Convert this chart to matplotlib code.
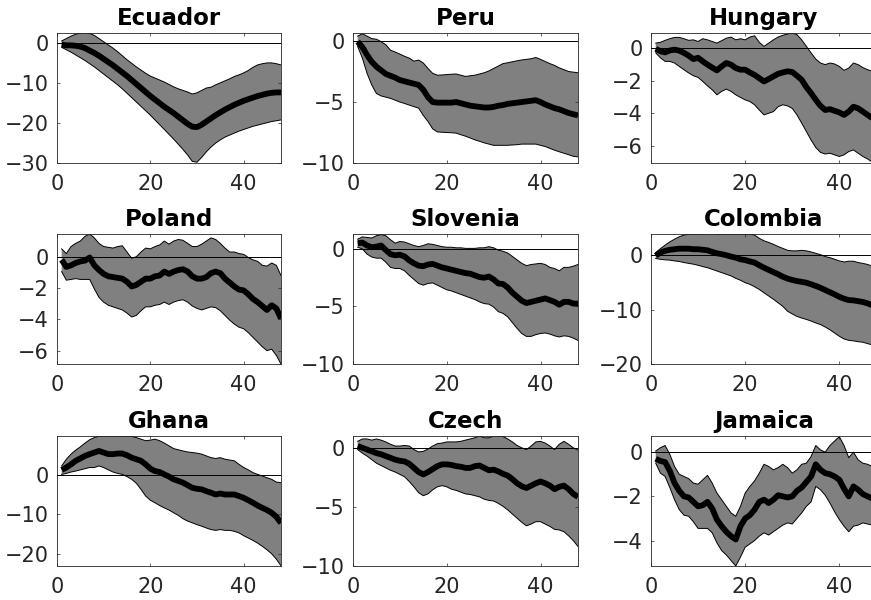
import numpy as np
import matplotlib.pyplot as plt

horizon = np.arange(1, 49)

countries = ['Ecuador', 'Peru', 'Hungary',
             'Poland', 'Slovenia', 'Colombia',
             'Ghana', 'Czech', 'Jamaica']

ecuador_med = [-0.3, -0.5, -0.5, -0.6, -0.8, -1.2, -1.8, -2.4, -3.1, -3.9, -4.7, -5.5, -6.4, -7.3, -8.2, -9.2,
               -10.2, -11.2, -12.2, -13.2, -14.1, -15.0, -15.9, -16.7, -17.5, -18.4, -19.3, -20.2, -20.9, -21.0, -20.4, -19.6,
               -18.8, -18.0, -17.3, -16.6, -16.0, -15.4, -14.9, -14.4, -14.0, -13.6, -13.2, -12.9, -12.6, -12.4, -12.3, -12.3]
ecuador_hi = [0.6, 1.2, 1.8, 2.3, 2.6, 2.7, 2.5, 2.0, 1.2, 0.4, -0.4, -1.2, -2.1, -3.1, -4.1, -5.0,
              -5.9, -6.7, -7.5, -8.2, -8.7, -9.2, -9.7, -10.3, -10.9, -11.4, -11.8, -12.2, -12.7, -12.4, -11.8, -11.2,
              -11.0, -10.4, -9.9, -9.4, -8.9, -8.3, -7.9, -7.4, -6.8, -6.0, -5.4, -5.1, -4.9, -4.9, -5.1, -5.4]
ecuador_lo = [-1.0, -1.6, -2.2, -2.9, -3.6, -4.3, -5.1, -5.9, -6.8, -7.7, -8.6, -9.5, -10.4, -11.4, -12.5, -13.6,
              -14.7, -15.8, -16.9, -18.0, -19.2, -20.4, -21.6, -22.8, -24.0, -25.3, -26.6, -28.0, -29.6, -29.8, -28.6, -27.2,
              -26.0, -25.0, -24.2, -23.5, -23.0, -22.5, -22.0, -21.6, -21.2, -20.8, -20.5, -20.2, -19.9, -19.6, -19.4, -19.2]

peru_med = [-0.05, -0.5, -1.15, -1.7, -2.1, -2.4, -2.7, -2.85, -3.0, -3.2, -3.3, -3.4, -3.5, -3.6, -4.0, -4.6,
            -5.0, -5.05, -5.05, -5.05, -5.05, -5.0, -5.1, -5.2, -5.3, -5.35, -5.4, -5.45, -5.45, -5.4, -5.3, -5.25,
            -5.15, -5.1, -5.05, -5.0, -4.95, -4.9, -4.85, -5.0, -5.2, -5.35, -5.5, -5.6, -5.75, -5.9, -6.0, -6.1]
peru_hi = [0.4, 0.6, 0.4, 0.2, 0.15, -0.05, -0.3, -0.75, -0.9, -1.07, -1.25, -1.4, -1.65, -1.56, -1.8, -2.25,
           -2.65, -2.8, -2.78, -2.75, -2.72, -2.7, -2.8, -2.9, -2.85, -2.8, -2.7, -2.6, -2.45, -2.25, -2.05, -1.85,
           -1.78, -1.7, -1.62, -1.55, -1.5, -1.45, -1.35, -1.5, -1.68, -1.85, -2.0, -2.2, -2.35, -2.5, -2.55, -2.6]
peru_lo = [-0.45, -1.4, -2.65, -3.6, -4.3, -4.5, -4.6, -4.7, -4.85, -5.0, -5.12, -5.25, -5.38, -5.5, -6.1, -6.6,
           -7.2, -7.45, -7.48, -7.5, -7.52, -7.55, -7.68, -7.8, -7.95, -8.1, -8.22, -8.35, -8.45, -8.55, -8.55, -8.55,
           -8.55, -8.52, -8.5, -8.45, -8.45, -8.45, -8.45, -8.55, -8.65, -8.8, -8.95, -9.08, -9.2, -9.32, -9.45, -9.5]

hungary_med = [-0.05, -0.2, -0.27, -0.15, -0.1, -0.16, -0.3, -0.47, -0.68, -0.6, -0.82, -1.02, -1.2, -1.37, -1.13, -0.92,
               -1.02, -1.23, -1.33, -1.33, -1.5, -1.65, -1.85, -2.05, -1.9, -1.74, -1.58, -1.5, -1.43, -1.47, -1.7, -1.95,
               -2.4, -2.77, -3.18, -3.55, -3.8, -3.75, -3.85, -3.95, -4.1, -3.9, -3.6, -3.7, -3.9, -4.1, -4.3, -4.4]
hungary_hi = [0.3, 0.35, 0.47, 0.57, 0.65, 0.65, 0.57, 0.47, 0.5, 0.4, 0.57, 0.5, 0.4, 0.3, 0.45, 0.6,
              0.67, 0.5, 0.57, 0.5, 0.67, 0.75, 0.35, 0.1, 0.3, 0.5, 0.67, 0.78, 0.86, 0.92, 0.82, 0.5,
              0.1, -0.3, -0.68, -0.92, -1.02, -0.92, -0.98, -1.13, -1.37, -1.23, -0.92, -1.02, -1.2, -1.33, -1.43, -1.55]
hungary_lo = [-0.3, -0.6, -0.82, -0.82, -0.92, -1.13, -1.33, -1.53, -1.7, -1.8, -2.05, -2.32, -2.56, -2.87, -2.66, -2.52,
              -2.66, -2.87, -3.03, -3.18, -3.28, -3.48, -3.8, -4.1, -4.0, -3.9, -3.6, -3.48, -3.55, -3.7, -4.1, -4.6,
              -5.12, -5.64, -6.1, -6.4, -6.5, -6.45, -6.55, -6.65, -6.55, -6.35, -6.25, -6.45, -6.65, -6.8, -7.0, -7.05]

poland_med = [-0.2, -0.65, -0.55, -0.4, -0.3, -0.25, -0.05, -0.55, -0.85, -1.1, -1.25, -1.3, -1.35, -1.4, -1.6, -1.9,
              -1.8, -1.6, -1.4, -1.4, -1.25, -1.2, -0.95, -1.1, -0.95, -0.85, -0.8, -0.95, -1.25, -1.4, -1.4, -1.3,
              -1.05, -0.95, -1.05, -1.4, -1.65, -1.9, -2.1, -2.15, -2.4, -2.7, -2.9, -3.15, -3.4, -3.1, -3.3, -3.95]
poland_hi = [0.5, 0.2, 0.65, 0.85, 1.0, 1.3, 1.45, 1.2, 0.85, 0.65, 0.6, 0.55, 0.65, 0.7, 0.3, -0.1,
             0.0, 0.3, 0.55, 0.5, 0.65, 0.75, 1.0, 0.8, 1.0, 1.1, 1.05, 0.85, 0.65, 0.65, 0.8, 1.0,
             1.2, 1.1, 0.85, 0.55, 0.3, 0.3, 0.2, 0.15, -0.05, -0.2, -0.3, -0.55, -0.6, -0.4, -0.55, -1.2]
poland_lo = [-0.95, -1.5, -1.45, -1.4, -1.45, -1.45, -1.45, -2.05, -2.6, -2.9, -3.1, -3.2, -3.3, -3.4, -3.6, -3.85,
             -3.75, -3.45, -3.2, -3.2, -3.1, -3.05, -2.9, -3.05, -2.9, -2.8, -2.75, -2.9, -3.15, -3.3, -3.4, -3.3,
             -3.2, -3.25, -3.45, -3.75, -4.05, -4.3, -4.5, -4.6, -4.85, -5.15, -5.45, -5.75, -6.0, -5.9, -6.3, -6.85]

slovenia_med = [0.5, 0.55, 0.3, 0.15, 0.2, 0.3, -0.1, -0.45, -0.55, -0.5, -0.65, -1.0, -1.25, -1.45, -1.5, -1.35,
                -1.3, -1.45, -1.6, -1.7, -1.8, -1.9, -2.0, -2.1, -2.15, -2.3, -2.45, -2.5, -2.4, -2.65, -3.0, -3.05,
                -3.35, -3.8, -4.15, -4.5, -4.7, -4.6, -4.5, -4.4, -4.3, -4.45, -4.6, -4.85, -4.6, -4.6, -4.75, -4.75]
slovenia_hi = [0.85, 1.05, 1.0, 0.95, 1.15, 1.25, 1.15, 0.8, 0.5, 0.65, 0.6, 0.45, 0.3, 0.2, 0.3, 0.45,
               0.4, 0.3, 0.2, 0.15, 0.15, 0.1, 0.1, 0.05, 0.05, 0.05, 0.1, 0.1, 0.2, 0.1, -0.1, -0.2,
               -0.35, -0.65, -0.95, -1.25, -1.45, -1.35, -1.3, -1.25, -1.35, -1.6, -1.7, -1.9, -1.6, -1.6, -1.5, -1.35]
slovenia_lo = [0.15, 0.0, -0.45, -0.7, -0.8, -0.8, -1.15, -1.6, -1.7, -1.7, -1.9, -2.3, -2.65, -3.0, -3.15, -3.0,
               -2.95, -3.15, -3.35, -3.55, -3.65, -3.8, -3.95, -4.1, -4.25, -4.4, -4.6, -4.75, -4.8, -5.05, -5.45, -5.6,
               -5.9, -6.4, -6.9, -7.35, -7.6, -7.6, -7.45, -7.35, -7.3, -7.4, -7.55, -7.65, -7.55, -7.6, -7.75, -7.95]

colombia_med = [-0.1, 0.5, 0.8, 1.0, 1.1, 1.2, 1.2, 1.2, 1.1, 1.1, 1.0, 0.9, 0.6, 0.35, 0.2, 0.0,
                -0.25, -0.45, -0.75, -0.9, -1.15, -1.35, -1.85, -2.3, -2.7, -3.1, -3.5, -3.95, -4.3, -4.55, -4.75, -4.9,
                -5.05, -5.35, -5.65, -6.0, -6.4, -6.8, -7.2, -7.65, -8.0, -8.25, -8.3, -8.45, -8.6, -8.85, -9.2, -9.5]
colombia_hi = [0.5, 1.2, 1.85, 2.45, 2.95, 3.4, 3.7, 3.85, 3.9, 3.9, 3.9, 4.0, 4.0, 3.9, 3.9, 3.9,
               3.9, 3.9, 3.9, 3.9, 3.9, 3.7, 3.1, 2.65, 2.35, 2.0, 1.6, 1.25, 0.9, 0.8, 0.8, 0.9,
               0.8, 0.6, 0.35, 0.1, -0.25, -0.45, -0.75, -1.05, -1.25, -1.1, -1.1, -1.35, -1.5, -1.7, -2.0, -2.3]
colombia_lo = [-0.6, -0.75, -0.85, -0.9, -1.05, -1.15, -1.35, -1.5, -1.65, -1.85, -2.1, -2.3, -2.6, -2.9, -3.2, -3.5,
               -3.8, -4.25, -4.6, -5.05, -5.35, -5.8, -6.3, -6.9, -7.5, -8.1, -8.75, -9.4, -10.3, -10.8, -11.25, -11.55,
               -11.8, -12.1, -12.45, -12.75, -13.2, -13.7, -14.3, -14.9, -15.4, -15.65, -15.75, -15.9, -16.0, -16.25, -16.5, -16.75]

ghana_med = [1.3, 1.9, 2.7, 3.6, 4.2, 4.85, 5.3, 5.7, 6.1, 5.7, 5.3, 5.3, 5.45, 5.45, 5.0, 4.4,
             4.0, 3.6, 2.7, 1.6, 1.0, 0.75, 0.15, -0.4, -1.1, -1.5, -1.95, -2.6, -3.25, -3.5, -3.65, -4.1,
             -4.5, -4.95, -4.7, -4.95, -4.95, -4.95, -5.35, -5.8, -6.4, -7.05, -7.75, -8.35, -8.9, -9.6, -10.6, -12.2]
ghana_hi = [2.3, 4.0, 5.3, 6.3, 7.15, 8.1, 8.95, 9.5, 9.85, 9.9, 9.9, 9.9, 9.9, 9.85, 9.85, 9.8,
            9.5, 9.1, 8.7, 8.85, 9.1, 8.7, 8.1, 7.4, 6.7, 6.4, 6.1, 5.85, 5.7, 5.55, 5.3, 4.85,
            4.4, 4.2, 4.4, 4.0, 3.8, 3.6, 2.7, 1.9, 1.3, 0.6, 0.15, -0.25, -0.7, -1.1, -1.8, -1.95]
ghana_lo = [0.15, 0.4, 0.75, 1.0, 1.3, 1.6, 1.9, 1.9, 2.3, 1.9, 1.3, 0.75, 0.4, 0.15, -0.4, -1.1,
            -2.1, -3.65, -5.35, -6.4, -7.05, -7.75, -8.35, -8.9, -9.6, -10.25, -11.1, -11.7, -12.15, -12.6, -13.0, -13.45,
            -13.85, -14.05, -13.85, -14.05, -14.05, -14.3, -14.7, -15.4, -16.0, -16.6, -17.3, -18.1, -19.0, -20.0, -21.35, -23.05]

czech_med = [0.15, 0.0, -0.15, -0.3, -0.45, -0.55, -0.7, -0.85, -1.0, -1.1, -1.15, -1.35, -1.7, -2.05, -2.25, -2.05,
             -1.8, -1.55, -1.4, -1.4, -1.45, -1.55, -1.6, -1.7, -1.7, -1.55, -1.5, -1.7, -1.9, -1.85, -2.0, -2.2,
             -2.35, -2.65, -3.0, -3.25, -3.4, -3.2, -3.0, -2.85, -3.0, -3.2, -3.5, -3.3, -3.2, -3.5, -3.9, -4.15]
czech_hi = [0.55, 0.75, 0.75, 0.65, 0.75, 0.65, 0.5, 0.3, 0.15, 0.15, 0.2, 0.15, -0.15, -0.35, -0.3, -0.1,
            0.15, 0.35, 0.4, 0.5, 0.5, 0.5, 0.55, 0.65, 0.75, 0.85, 1.0, 0.85, 0.85, 1.0, 1.0, 0.95,
            0.75, 0.5, 0.2, 0.0, -0.15, 0.15, 0.5, 0.55, 0.4, 0.15, -0.15, 0.3, 0.55, 0.3, 0.0, -0.2]
czech_lo = [-0.15, -0.45, -0.7, -1.0, -1.3, -1.5, -1.7, -1.9, -2.05, -2.25, -2.45, -2.85, -3.3, -3.8, -4.05, -3.9,
            -3.55, -3.3, -3.2, -3.3, -3.5, -3.6, -3.75, -3.9, -3.95, -4.05, -4.15, -4.35, -4.45, -4.5, -4.7, -4.95,
            -5.25, -5.6, -5.95, -6.3, -6.6, -6.45, -6.25, -6.25, -6.45, -6.65, -6.9, -6.95, -7.1, -7.45, -7.85, -8.35]

jamaica_med = [-0.3, -0.4, -0.45, -0.85, -1.4, -1.75, -2.0, -2.05, -2.25, -2.45, -2.4, -2.25, -2.55, -3.05, -3.35, -3.6,
               -3.8, -3.95, -3.35, -3.0, -2.85, -2.6, -2.25, -2.15, -2.3, -2.15, -1.95, -2.0, -2.05, -2.0, -1.75, -1.6,
               -1.35, -1.1, -0.55, -0.8, -0.95, -1.0, -1.1, -1.25, -1.65, -2.0, -1.55, -1.7, -1.9, -2.0, -2.1, -2.15]
jamaica_hi = [0.05, 0.2, 0.3, -0.1, -0.65, -1.0, -1.1, -1.2, -1.4, -1.45, -1.25, -1.05, -1.4, -1.85, -2.15, -2.45,
              -2.75, -2.9, -2.45, -1.85, -1.55, -1.3, -0.95, -0.55, -0.65, -0.8, -0.7, -0.55, -0.7, -0.95, -0.8, -0.55,
              -0.5, -0.2, 0.3, 0.1, 0.0, 0.3, 0.5, 0.7, 0.3, -0.25, 0.0, -0.35, -0.5, -0.55, -0.65, -0.7]
jamaica_lo = [-0.5, -0.95, -1.1, -1.6, -2.15, -2.6, -2.85, -2.9, -3.15, -3.45, -3.45, -3.45, -3.65, -4.1, -4.45, -4.65,
              -4.9, -5.15, -4.75, -4.3, -4.15, -4.0, -3.8, -3.65, -3.75, -3.6, -3.45, -3.3, -3.2, -3.25, -3.0, -2.75,
              -2.45, -2.25, -1.55, -1.7, -1.95, -2.3, -2.7, -3.05, -3.35, -3.6, -3.35, -3.3, -3.2, -3.25, -3.3, -3.3]

medians = [ecuador_med, peru_med, hungary_med, poland_med, slovenia_med, colombia_med, ghana_med, czech_med, jamaica_med]
uppers = [ecuador_hi, peru_hi, hungary_hi, poland_hi, slovenia_hi, colombia_hi, ghana_hi, czech_hi, jamaica_hi]
lowers = [ecuador_lo, peru_lo, hungary_lo, poland_lo, slovenia_lo, colombia_lo, ghana_lo, czech_lo, jamaica_lo]

ylims = [(-30, 2.6), (-10, 0.66), (-7.05, 0.92),
         (-6.85, 1.45), (-10, 1.3), (-20, 3.9),
         (-23.1, 9.9), (-10, 1.0), (-5.15, 0.73)]
yticks = [[-30, -20, -10, 0], [-10, -5, 0], [-6, -4, -2, 0],
          [-6, -4, -2, 0], [-10, -5, 0], [-20, -10, 0],
          [-20, -10, 0], [-10, -5, 0], [-4, -2, 0]]
xticks = [0, 20, 40]

fig = plt.figure(figsize=(8.71, 6.0), dpi=100)

lefts = [57, 353, 651]
widths = [224, 225, 226]
tops = [33, 234, 436]
H = 130

for i, name in enumerate(countries):
    r, c = divmod(i, 3)
    ax = fig.add_axes([lefts[c] / 871, 1 - (tops[r] + H) / 600, widths[c] / 871, H / 600])
    lo = np.array(lowers[i])
    hi = np.array(uppers[i])
    ax.fill_between(horizon, lo, hi, facecolor='#808080', edgecolor='none', zorder=1)
    ax.plot(horizon, hi, color='k', lw=0.7, zorder=2)
    ax.plot(horizon, lo, color='k', lw=0.7, zorder=2)
    ax.axhline(0, color='k', lw=0.7, zorder=3)
    ax.plot(horizon, medians[i], color='k', lw=4.2, zorder=4, solid_capstyle='butt')
    ax.set_xlim(0, 48)
    ax.set_ylim(*ylims[i])
    ax.set_xticks(xticks)
    ax.set_yticks(yticks[i])
    ax.tick_params(direction='in', length=2.5, width=0.5, labelsize=15, colors='#262626',
                   top=True, right=True, pad=6)
    ax.tick_params(axis='x', pad=8)
    for s in ax.spines.values():
        s.set_color('#262626')
        s.set_linewidth(0.6)
    ax.set_title(name, fontsize=16.5, fontweight='bold', pad=6)

fig.savefig('out.png', dpi=100)
